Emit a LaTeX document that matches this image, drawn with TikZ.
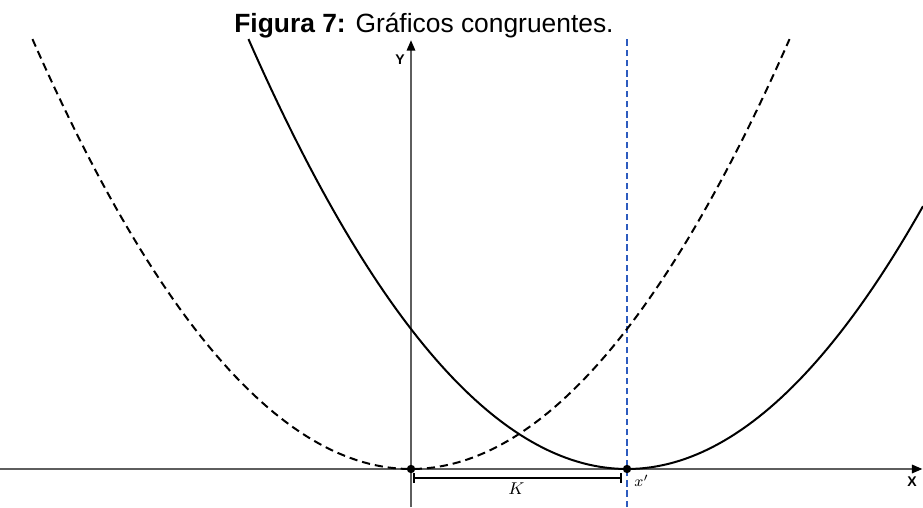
\documentclass[tikz,border=0pt]{standalone}
\usepackage{fontspec}
\setmainfont{Liberation Sans}
\usepackage{tikz}
\usetikzlibrary{arrows.meta,positioning,calc}
\definecolor{axisgray}{HTML}{5E5E5E}
\definecolor{shiftblue}{HTML}{2D5BBF}

\begin{document}
\begin{tikzpicture}[
  axisline/.style={draw=axisgray, line width=0.8pt, -{Triangle[length=5.5pt,width=4.5pt,color=black]}},
  curve/.style={line width=1.05pt, black},
  vertexdot/.style={circle, fill=black, inner sep=0pt, minimum size=4.4pt}
]
\useasboundingbox (-7.611,-0.704) rectangle (9.481,8.685);
% title
\node[font=\fontsize{13.9}{16}\selectfont, anchor=base] (title) at (0.24,8.09) {\textbf{Figura 7:} Gráficos congruentes.};
% axes
\coordinate (xl) at (-7.611,0);
\coordinate (xr) at (9.47,0);
\coordinate (yb) at (0,-0.704);
\coordinate (yt) at (0,7.94);
\draw[axisline] (xl) -- (xr);
\draw[axisline] (yb) -- (yt);
\node[font=\fontsize{7.4}{9}\selectfont\bfseries] (ylab) at (-0.204,7.574) {Y};
\node[font=\fontsize{7.4}{9}\selectfont\bfseries] (xlab) at (9.278,-0.241) {X};
% shift line
\coordinate (sb) at (4,-0.704);
\coordinate (st) at (4,7.98);
\draw[shiftblue, line width=1.05pt, dash pattern=on 3.4pt off 2pt] (sb) -- (st);
% parabolas
\draw[curve, dash pattern=on 4.3pt off 2.6pt] plot[domain=-7.01:7.01, samples=120] (\x,{0.162*(\x)^2});
\draw[curve] plot[domain=-3.01:9.481, samples=120] (\x,{0.162*(\x-4)^2});
% vertices
\node[vertexdot] (O) at (0,0) {};
\node[vertexdot] (V) at (4,0) {};
\node[font=\fontsize{8.5}{10}\selectfont] (xp) at (4.27,-0.215) {$x'$};
% distance K
\coordinate (kl) at (0.037,-0.167);
\coordinate (kr) at (3.907,-0.167);
\draw[line width=0.85pt, {Bar[width=5pt]}-{Bar[width=5pt]}] (kl) -- (kr);
\node[font=\fontsize{9}{10}\selectfont] (klab) at (1.95,-0.37) {$K$};
\end{tikzpicture}
\end{document}
